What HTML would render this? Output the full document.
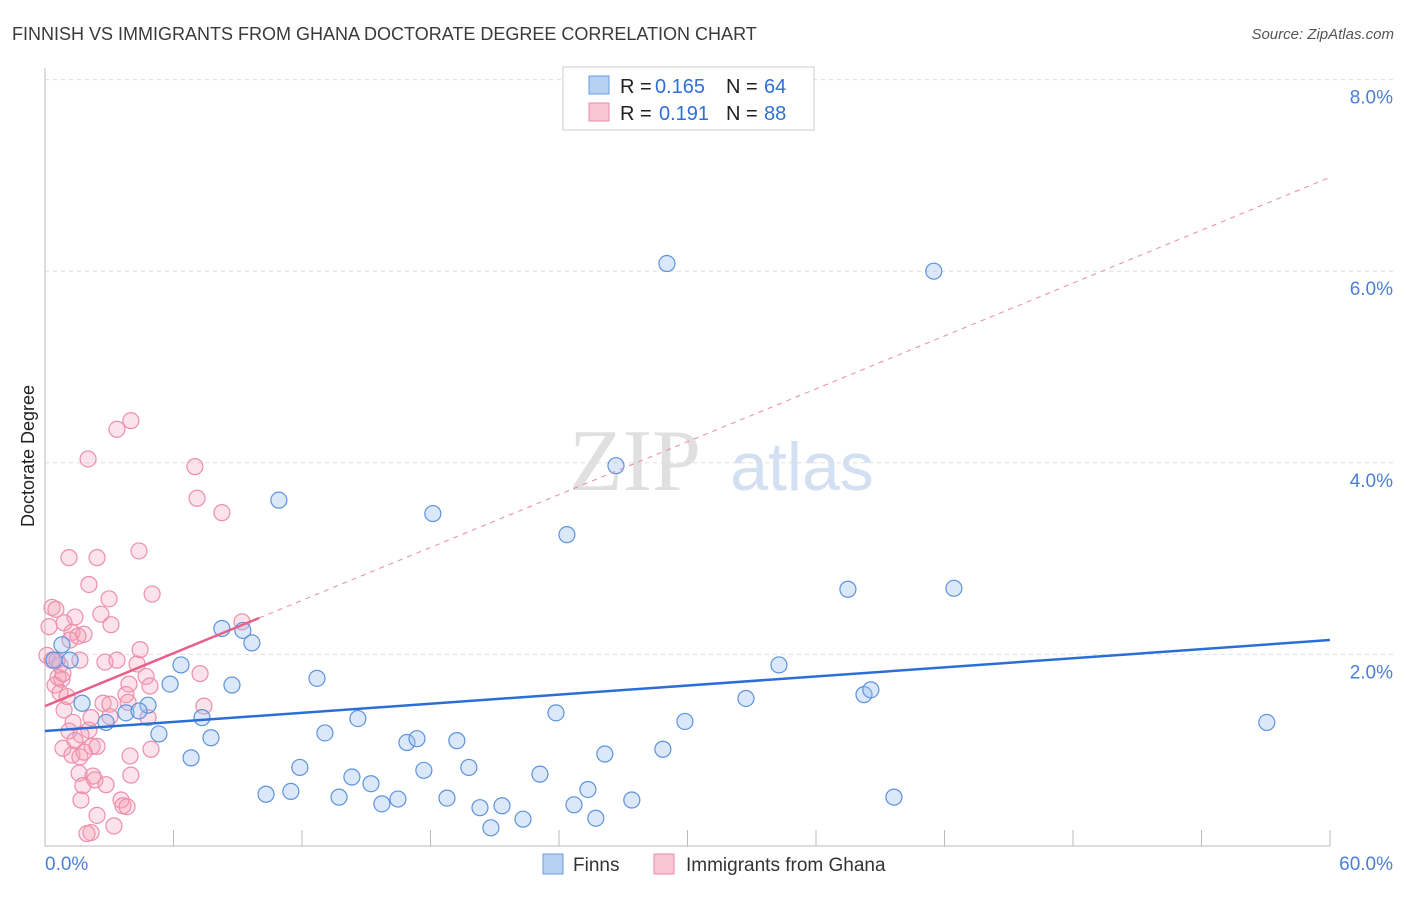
<!DOCTYPE html>
<html><head><meta charset="utf-8"><style>
body{margin:0;background:#fff;font-family:"Liberation Sans",sans-serif;}
</style></head><body>
<svg id="c" width="1406" height="892" xmlns="http://www.w3.org/2000/svg">
<text x="12" y="40" font-size="18" fill="#3a3a3a">FINNISH VS IMMIGRANTS FROM GHANA DOCTORATE DEGREE CORRELATION CHART</text>
<text x="1394" y="39" font-size="15" fill="#555" font-style="italic" text-anchor="end">Source: ZipAtlas.com</text>
<text x="34" y="456" font-size="18" fill="#222" text-anchor="middle" transform="rotate(-90 34 456)">Doctorate Degree</text>
<text x="635" y="490" font-size="88" fill="#e0e0e0" font-family="Liberation Serif,serif" text-anchor="middle">ZIP</text>
<text x="802" y="490" font-size="68" fill="#d3e0f2" text-anchor="middle">atlas</text>
<g id="grid"></g><g id="marks"></g>
<g>
<rect x="563" y="67" width="251" height="63" fill="#fff" stroke="#ccc"/>
<rect x="589" y="76" width="20" height="18" fill="#b7d1f3" stroke="#6a9be0"/>
<text x="620" y="93" font-size="20" fill="#222">R =</text><text x="655" y="93" font-size="20" fill="#2f6fd6">0.165</text>
<text x="726" y="93" font-size="20" fill="#222">N =</text><text x="764" y="93" font-size="20" fill="#2f6fd6">64</text>
<rect x="589" y="103" width="20" height="18" fill="#f8c6d5" stroke="#ea8aa8"/>
<text x="620" y="120" font-size="20" fill="#222">R =</text><text x="659" y="120" font-size="20" fill="#2f6fd6">0.191</text>
<text x="726" y="120" font-size="20" fill="#222">N =</text><text x="764" y="120" font-size="20" fill="#2f6fd6">88</text>
</g>
<g>
<rect x="543" y="854" width="20" height="20" fill="#b7d1f3" stroke="#6a9be0"/>
<text x="573" y="871" font-size="19" fill="#333">Finns</text>
<rect x="654" y="854" width="20" height="20" fill="#f8c6d5" stroke="#ea8aa8"/>
<text x="686" y="871" font-size="19" fill="#333">Immigrants from Ghana</text>
</g>
</svg>
<script>
const blueX=[29.04,41.5,26.66,10.92,18.11,24.37,37.49,42.44,8.26,9.24,9.66,0.79,1.17,0.42,6.35,34.27,5.84,8.73,12.7,32.73,38.24,38.56,1.73,4.81,3.78,4.39,2.85,7.33,14.61,23.86,29.88,57.05,5.32,7.75,13.07,16.9,17.37,19.23,28.85,26.14,6.82,11.9,19.79,17.69,14.33,23.11,15.22,10.32,11.48,13.73,16.48,15.73,18.77,25.35,27.4,39.64,20.31,21.34,24.7,22.32,25.72,20.82];
const blueY=[6.08,6.0,3.97,3.61,3.47,3.25,2.68,2.69,2.27,2.25,2.12,2.10,1.94,1.94,1.89,1.89,1.69,1.68,1.75,1.54,1.58,1.63,1.49,1.47,1.39,1.41,1.29,1.34,1.33,1.39,1.30,1.29,1.17,1.13,1.18,1.08,1.12,1.10,1.01,0.96,0.92,0.82,0.82,0.79,0.72,0.75,0.65,0.54,0.57,0.51,0.49,0.44,0.50,0.59,0.48,0.51,0.40,0.42,0.43,0.28,0.29,0.19];
const pinkX=[4.01,3.36,2.01,7.0,7.1,8.26,4.39,1.12,2.43,2.05,5.0,2.99,0.33,0.51,2.61,1.4,0.89,3.08,9.2,0.19,1.26,1.82,1.54,1.17,4.44,0.09,0.33,0.7,2.8,3.36,4.3,0.61,0.79,0.47,4.72,7.24,4.9,3.92,0.7,1.03,3.78,2.71,3.03,3.88,7.42,0.89,4.81,1.31,2.15,3.03,1.12,2.05,1.68,1.4,2.2,2.43,0.84,4.95,3.97,1.26,1.63,1.82,4.01,1.59,2.24,2.33,1.77,2.85,1.68,3.55,3.64,3.83,2.43,3.22,2.15,1.96,0.84,0.56,1.63];
const pinkY=[4.44,4.35,4.04,3.96,3.63,3.48,3.08,3.01,3.01,2.73,2.63,2.58,2.49,2.47,2.42,2.39,2.33,2.31,2.34,2.29,2.23,2.21,2.19,2.15,2.05,1.99,1.94,1.89,1.92,1.94,1.90,1.76,1.74,1.68,1.77,1.80,1.67,1.69,1.60,1.56,1.58,1.49,1.48,1.50,1.46,1.42,1.34,1.29,1.34,1.35,1.20,1.21,1.16,1.10,1.04,1.04,1.02,1.01,0.94,0.95,0.93,0.98,0.74,0.76,0.73,0.69,0.63,0.64,0.48,0.48,0.42,0.41,0.32,0.21,0.14,0.13,1.80,1.94,1.94];
const blueTrend=[1.20,2.15];
const pinkTrend=[1.46,6.98];
const yTicks=[2,4,6,8];
const xTickLabels=["0.0%","60.0%"];
const NS="http://www.w3.org/2000/svg";
const sx=v=>45+v/60*1285, sy=v=>846-v*95.8;
const grid=document.getElementById('grid'), marks=document.getElementById('marks');
function mk(tag,at,parent){const e=document.createElementNS(NS,tag);for(const k in at)e.setAttribute(k,at[k]);parent.appendChild(e);return e;}
let ax=mk('line',{x1:45,y1:68,x2:45,y2:846,stroke:'#bbb'},grid);


let bx=mk('line',{x1:45,y1:846,x2:1330,y2:846,stroke:'#bbb'},grid);


for(let i=0;i<=10;i++){let t=mk('line',{x1:sx(i*6),y1:830,x2:sx(i*6),y2:846,stroke:'#bbb'},grid);

}
yTicks.forEach(v=>{let g=mk('line',{x1:45,y1:sy(v),x2:1393,y2:sy(v),stroke:'#ddd','stroke-dasharray':'4,4'},grid);


let t=mk('text',{x:1393,y:sy(v)+24,'font-size':19,fill:'#4a7fd6','text-anchor':'end'},grid);t.textContent=v.toFixed(1)+'%';

});
let xl=mk('text',{x:45,y:870,'font-size':19,fill:'#4a7fd6'},grid);xl.textContent=xTickLabels[0];


let xr=mk('text',{x:1393,y:870,'font-size':19,fill:'#4a7fd6','text-anchor':'end'},grid);xr.textContent=xTickLabels[1];


pinkX.forEach((x,i)=>{let c=mk('circle',{cx:sx(x),cy:sy(pinkY[i]),r:8,fill:'rgba(244,160,186,0.3)',stroke:'#ec8fab','stroke-width':1.2},marks);

});
blueX.forEach((x,i)=>{let c=mk('circle',{cx:sx(x),cy:sy(blueY[i]),r:8,fill:'rgba(150,190,240,0.35)',stroke:'#5d93dc','stroke-width':1.2},marks);

});
const pAt=x=>pinkTrend[0]+(pinkTrend[1]-pinkTrend[0])*x/60;
let pd=mk('line',{x1:sx(10),y1:sy(pAt(10)),x2:sx(60),y2:sy(pAt(60)),stroke:'#e88aa6','stroke-dasharray':'5,5','stroke-width':1},marks);


let ps=mk('line',{x1:sx(0),y1:sy(pAt(0)),x2:sx(10),y2:sy(pAt(10)),stroke:'#e8608a','stroke-width':2.5},marks);


let bt=mk('line',{x1:sx(0),y1:sy(blueTrend[0]),x2:sx(60),y2:sy(blueTrend[1]),stroke:'#2b6fd6','stroke-width':2.5},marks);


</script>
</body></html>
